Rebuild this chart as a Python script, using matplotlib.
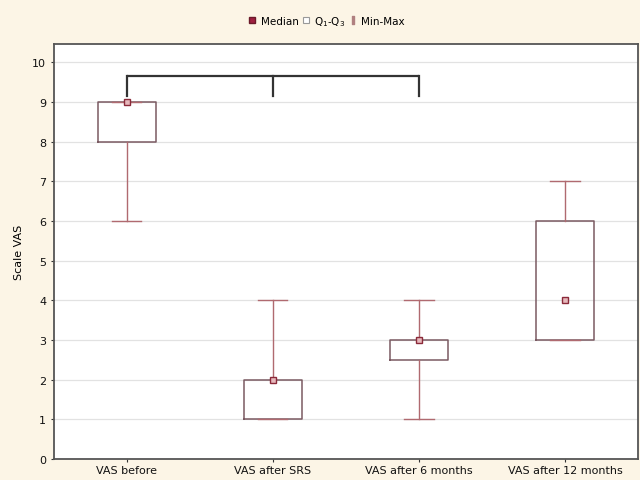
import matplotlib
matplotlib.use("Agg")
import matplotlib.pyplot as plt
from matplotlib.lines import Line2D

# values
groups = ["VAS before", "VAS after SRS", "VAS after 6 months", "VAS after 12 months"]
mins = [6, 1, 1, 3]
q1s = [8, 1, 2.5, 3]
medians = [9, 2, 3, 4]
q3s = [9, 2, 3, 6]
maxs = [9, 4, 4, 7]
bracket_groups = [0, 1, 2]
bracket_y = [9.66, 9.16]

bg = "#fcf5e6"
box_col = "#7a5a62"
whis_col = "#b06a70"
med_edge = "#8b2a3a"

fig = plt.figure(figsize=(6.4, 4.81), dpi=100, facecolor=bg)
ax = fig.add_axes([0.084, 0.0437, 0.913, 0.862])
ax.set_facecolor("white")

stats = []
for i in range(len(groups)):
    stats.append(dict(med=medians[i], q1=q1s[i], q3=q3s[i],
                      whislo=mins[i], whishi=maxs[i], label=groups[i]))

ax.bxp(stats, positions=range(len(groups)), widths=0.4, capwidths=0.2,
       showfliers=False, patch_artist=False,
       boxprops=dict(color=box_col, linewidth=1.1),
       whiskerprops=dict(color=whis_col, linewidth=1.0),
       capprops=dict(color=whis_col, linewidth=1.0),
       medianprops=dict(linewidth=0))
ax.plot(range(len(groups)), medians, linestyle="none", marker="s", markersize=4,
        markerfacecolor="#e6b8bc", markeredgecolor=med_edge, markeredgewidth=1.0, zorder=5)

# significance bracket
ax.plot([bracket_groups[0], bracket_groups[-1]], [bracket_y[0], bracket_y[0]],
        color="#333333", linewidth=1.6, solid_capstyle="butt", zorder=6)
for g in bracket_groups:
    ax.plot([g, g], bracket_y, color="#333333", linewidth=1.6, zorder=6)

ax.set_xlim(-0.5, 3.5)
ax.set_ylim(0, 10.45)
ax.set_yticks(range(0, 11))
ax.yaxis.grid(True, color="#e2e2e2", linewidth=0.9)
ax.set_axisbelow(True)
ax.tick_params(axis="both", length=2, labelsize=8, colors="#333333", labelcolor="#111111")
ax.tick_params(axis="x", pad=2)
ax.set_ylabel("Scale VAS", fontsize=8, labelpad=6)
for s in ax.spines.values():
    s.set_color("#555555")
    s.set_linewidth(1.3)

handles = [
    Line2D([], [], linestyle="none", marker="s", markersize=4,
           markerfacecolor="#a02040", markeredgecolor="#6b1a2a"),
    Line2D([], [], linestyle="none", marker="s", markersize=5,
           markerfacecolor="white", markeredgecolor="#999999", markeredgewidth=0.8),
    Line2D([], [], linestyle="none", marker="$\\mathsf{I}$", markersize=6,
           color="#b08080"),
]
labels = ["Median", "Q$_1$-Q$_3$", "Min-Max"]
fig.legend(handles, labels, loc="center", bbox_to_anchor=(0.51, 0.955), ncol=3,
           frameon=False, fontsize=7.5, handlelength=0.8, handletextpad=0.4,
           columnspacing=0.3)

fig.savefig("out.png", dpi=100, facecolor=bg)
